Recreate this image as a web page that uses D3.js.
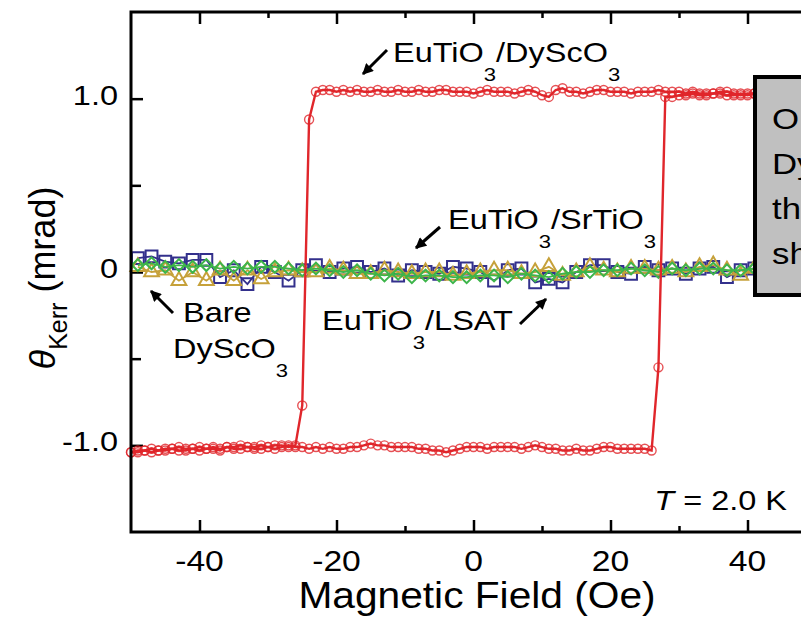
<!DOCTYPE html>
<html>
<head>
<meta charset="utf-8">
<script src="https://cdn.jsdelivr.net/npm/d3@7"></script>
<style>
  body { margin: 0; background: #fff; }
  text { font-family: "Liberation Sans", Arial, sans-serif; fill: #000; }
</style>
</head>
<body>
<svg id="chart" width="801" height="619"></svg>
<script>
// red loop, EuTiO3/DyScO3 : field swept up, then down
const upField = [-50,-49,-48,-47,-46,-45,-44,-43,-42,-41,
  -40,-39,-38,-37,-36,-35,-34,-33,-32,-31,
  -30,-29,-28,-27,-26,-25,-24,-23,-22,-21,
  -20,-19,-18,-17,-16,-15,-14,-13,-12,-11,
  -10,-9,-8,-7,-6,-5,-4,-3,-2,-1,
  0,1,2,3,4,5,6,7,8,9,
  10,11,12,13,14,15,16,17,18,19,
  20,21,22,23,24,25,26,27,28,29,
  30,31,32,33,34,35,36,37,38,39,
  40,41,42,43,44,45,46,47,48,49,
  50];
const upKerr = [-1.04,-1.03,-1.03,-1.02,-1.03,-1.02,-1.02,-1.01,-1.02,-1.02,
  -1.01,-1.02,-1.01,-1.02,-1.01,-1.01,-1.00,-1.01,-1.01,-1.00,
  -1.01,-1.00,-1.00,-1.01,-1.00,-0.77,0.88,1.04,1.05,1.05,
  1.04,1.05,1.04,1.05,1.04,1.04,1.05,1.04,1.04,1.05,
  1.04,1.04,1.05,1.04,1.04,1.05,1.05,1.04,1.04,1.04,
  1.03,1.04,1.05,1.04,1.04,1.04,1.03,1.04,1.05,1.04,
  1.02,1.01,1.05,1.06,1.04,1.04,1.03,1.04,1.05,1.05,
  1.04,1.04,1.04,1.03,1.04,1.04,1.04,1.05,1.04,1.04,
  1.04,1.03,1.04,1.03,1.03,1.03,1.04,1.04,1.03,1.02,
  1.03,1.03,1.04,1.03,1.03,1.02,1.03,1.03,1.03,1.02,
  1.03];
const downField = [50,49,48,47,46,45,44,43,42,41,
  40,39,38,37,36,35,34,33,32,31,
  30,29,28,27,26,25,24,23,22,21,
  20,19,18,17,16,15,14,13,12,11,
  10,9,8,7,6,5,4,3,2,1,
  0,-1,-2,-3,-4,-5,-6,-7,-8,-9,
  -10,-11,-12,-13,-14,-15,-16,-17,-18,-19,
  -20,-21,-22,-23,-24,-25,-26,-27,-28,-29,
  -30,-31,-32,-33,-34,-35,-36,-37,-38,-39,
  -40,-41,-42,-43,-44,-45,-46,-47,-48,-49,
  -50];
const downKerr = [1.03,1.02,1.02,1.03,1.02,1.02,1.03,1.02,1.02,1.03,
  1.02,1.03,1.02,1.02,1.03,1.03,1.02,1.02,1.03,1.02,
  1.02,1.01,1.01,-0.55,-1.03,-1.02,-1.02,-1.02,-1.02,-1.02,
  -1.01,-1.01,-1.02,-1.03,-1.03,-1.02,-1.03,-1.03,-1.02,-1.02,
  -1.01,-1.00,-1.01,-1.02,-1.01,-1.01,-1.01,-1.01,-1.02,-1.01,
  -1.01,-1.01,-1.02,-1.03,-1.04,-1.03,-1.03,-1.02,-1.02,-1.01,
  -1.01,-1.01,-1.01,-1.00,-1.00,-0.99,-1.00,-1.01,-1.01,-1.02,
  -1.02,-1.01,-1.02,-1.01,-1.02,-1.01,-1.01,-1.00,-1.01,-1.02,
  -1.01,-1.02,-1.02,-1.01,-1.02,-1.02,-1.01,-1.03,-1.02,-1.02,
  -1.03,-1.02,-1.03,-1.03,-1.02,-1.03,-1.03,-1.04,-1.03,-1.04,
  -1.04];

// the three flat traces share one field grid
const flatField = [-49,-47,-45,-43,-41,-39,-37,-35,-33,-31,
  -29,-27,-25,-23,-21,-19,-17,-15,-13,-11,
  -9,-7,-5,-3,-1,1,3,5,7,9,
  11,13,15,17,19,21,23,25,27,29,
  31,33,35,37,39,41,43,45,47,49];
const srtioKerr = [0.08,0.09,0.06,0.05,0.07,0.07,-0.03,0.01,-0.07,0.03,
  0.00,-0.05,0.01,0.04,0.00,0.02,0.03,0.00,0.02,-0.02,
  0.01,0.00,-0.01,0.03,0.02,0.00,-0.05,0.01,0.02,-0.06,
  -0.04,-0.06,0.00,0.04,0.04,0.00,-0.01,0.03,0.01,0.02,
  -0.01,0.02,0.03,-0.03,0.01,0.02,0.00,0.01,0.02,0.01];
const lsatKerr = [0.04,0.05,0.03,0.04,0.03,0.04,0.02,0.03,0.02,0.03,
  0.03,0.02,0.01,0.02,0.01,0.00,0.01,-0.01,-0.02,-0.01,
  -0.03,-0.02,-0.02,-0.03,-0.03,-0.02,-0.02,-0.03,-0.01,-0.02,
  -0.03,-0.01,0.00,0.00,0.01,0.01,0.02,0.01,0.00,0.02,
  0.01,0.02,0.02,0.01,0.01,0.02,0.01,0.02,0.02,0.01];
const bareKerr = [0.03,0.00,0.01,-0.05,0.00,-0.05,0.01,-0.05,0.01,-0.04,
  0.00,0.01,0.00,0.00,0.02,0.01,-0.01,-0.01,0.01,0.00,
  -0.01,0.00,0.00,-0.02,-0.01,0.00,0.01,0.01,-0.01,0.00,
  0.03,-0.02,0.00,0.03,0.01,0.00,0.02,0.02,0.01,0.02,
  0.00,0.03,0.04,0.01,-0.02,0.02,0.01,0.00,0.01,0.03];

const xMajor = [-40, -20, 0, 20, 40];
const xMinor = [-30, -10, 10, 30, 50];
const yMajor = [-1, 0, 1];
const yMinor = [-0.5, 0.5];
const yLabels = {'-1': '-1.0', '0': '0', '1': '1.0'};

const SX = 1.16; // the original figure is stretched sideways
const svg = d3.select('#chart');
const pLeft = 131, pRight = 816, pTop = 12, pBottom = 532;
const x = d3.scaleLinear().domain([-50, 50]).range([pLeft, pRight]);
const y = d3.scaleLinear().domain([-1.5, 1.5]).range([pBottom, pTop]);

const red = '#e0262b', blue = '#33308c', green = '#3db54a', gold = '#c6a13a';

// axes, ticks inward
function tickAxis(axis, vals, size, tr) {
  const g = svg.append('g').attr('transform', tr)
    .call(axis.tickValues(vals).tickSize(size).tickSizeOuter(0).tickFormat(''));
  g.select('.domain').remove();
  g.selectAll('line').attr('stroke', '#000').attr('stroke-width', 2.5);
  g.selectAll('text').remove();
  return g;
}
tickAxis(d3.axisBottom(x), xMajor, -12, `translate(0,${pBottom})`);
tickAxis(d3.axisBottom(x), xMinor, -6, `translate(0,${pBottom})`);
tickAxis(d3.axisTop(x), xMajor, -12, `translate(0,${pTop})`);
tickAxis(d3.axisTop(x), xMinor, -6, `translate(0,${pTop})`);
tickAxis(d3.axisLeft(y), yMajor, -12, `translate(${pLeft},0)`);
tickAxis(d3.axisLeft(y), yMinor, -10, `translate(${pLeft},0)`);

svg.selectAll('text.xt').data(xMajor).enter().append('text')
  .attr('class', 'xt')
  .attr('transform', d => `translate(${x(d)},571) scale(${SX},1)`)
  .attr('text-anchor', 'middle').attr('font-size', 29)
  .text(d => d);
svg.selectAll('text.yt').data(yMajor).enter().append('text')
  .attr('class', 'yt')
  .attr('transform', d => `translate(118,${y(d) + 6}) scale(${SX},1)`)
  .attr('text-anchor', 'end').attr('font-size', 28)
  .text(d => yLabels[d]);

svg.append('text')
  .attr('transform', `translate(477,608) scale(1.1,1)`)
  .attr('text-anchor', 'middle').attr('font-size', 37)
  .text('Magnetic Field (Oe)');

const yt = svg.append('text')
  .attr('transform', 'translate(55,278) rotate(-90)')
  .attr('text-anchor', 'middle').attr('font-size', 36);
yt.append('tspan').attr('font-style', 'italic').text('θ');
yt.append('tspan').attr('font-size', 25).attr('dy', 12).text('Kerr');
yt.append('tspan').attr('dy', -12).text(' (mrad)');

// flat traces
const line = d3.line().x(d => x(d[0])).y(d => y(d[1]));
function trace(field, kerr, color, sym, size, rot) {
  const pts = d3.zip(field, kerr);
  svg.append('path').datum(pts).attr('d', line)
    .attr('fill', 'none').attr('stroke', color).attr('stroke-width', 1.8);
  svg.append('g').selectAll('path').data(pts).enter().append('path')
    .attr('d', d3.symbol().type(sym).size(size))
    .attr('transform', d => `translate(${x(d[0])},${y(d[1])}) rotate(${rot})`)
    .attr('fill', 'none').attr('stroke', color).attr('stroke-width', 2);
}
trace(flatField, srtioKerr, blue, d3.symbolSquare, 140, 0);
trace(flatField, bareKerr, gold, d3.symbolTriangle, 95, 0);
trace(flatField, lsatKerr, green, d3.symbolSquare, 70, 45);

// red loop
const loop = d3.zip(upField, upKerr).concat(d3.zip(downField, downKerr));
svg.append('path').datum(d3.zip(upField, upKerr)).attr('d', line)
  .attr('fill', 'none').attr('stroke', red).attr('stroke-width', 2.4);
svg.append('path').datum(d3.zip(downField, downKerr)).attr('d', line)
  .attr('fill', 'none').attr('stroke', red).attr('stroke-width', 2.4);
svg.append('g').selectAll('circle').data(loop).enter().append('circle')
  .attr('cx', d => x(d[0])).attr('cy', d => y(d[1])).attr('r', 4.5)
  .attr('fill', 'none').attr('stroke', red).attr('stroke-width', 1.4)
  .attr('opacity', 0.8);

// frame
svg.append('rect').attr('x', pLeft).attr('y', pTop)
  .attr('width', pRight - pLeft).attr('height', pBottom - pTop)
  .attr('fill', 'none').attr('stroke', '#000').attr('stroke-width', 3);

// labels with subscripts
function label(px, py, parts, size) {
  const t = svg.append('text')
    .attr('transform', `translate(${px},${py}) scale(${SX},1)`)
    .attr('font-size', size);
  let down = 0;
  parts.forEach(p => {
    const sub = p.startsWith('_');
    const s = t.append('tspan').text(sub ? p.slice(1) : p);
    if (sub) { s.attr('font-size', size * 0.68).attr('dy', 19 - down); down = 19; }
    else { s.attr('dy', -down); down = 0; }
  });
  return t;
}
label(393, 62, ['EuTiO', '_3', '/DyScO', '_3'], 28);
label(448, 229, ['EuTiO', '_3', '/SrTiO', '_3'], 28);
label(322, 330, ['EuTiO', '_3', '/LSAT'], 28);
label(183, 322, ['Bare'], 28);
label(173, 358, ['DyScO', '_3'], 28);

const tl = svg.append('text')
  .attr('transform', `translate(787,510) scale(${SX},1)`)
  .attr('text-anchor', 'end').attr('font-size', 28);
tl.append('tspan').attr('font-style', 'italic').text('T');
tl.append('tspan').text(' = 2.0 K');

// arrows
svg.append('defs').append('marker').attr('id', 'head')
  .attr('viewBox', '0 0 10 10').attr('refX', 9).attr('refY', 5)
  .attr('markerWidth', 13).attr('markerHeight', 11)
  .attr('markerUnits', 'userSpaceOnUse').attr('orient', 'auto')
  .append('path').attr('d', 'M0,0L10,5L0,10Z').attr('fill', '#000');
const arrows = [[387, 50, 363, 74], [440, 227, 416, 248], [173, 313, 151, 291], [520, 324, 546, 299]];
svg.selectAll('line.arr').data(arrows).enter().append('line')
  .attr('class', 'arr')
  .attr('x1', d => d[0]).attr('y1', d => d[1]).attr('x2', d => d[2]).attr('y2', d => d[3])
  .attr('stroke', '#000').attr('stroke-width', 3).attr('marker-end', 'url(#head)');

// grey note box, cut by the page edge as in the source figure
svg.append('rect').attr('x', 755).attr('y', 77).attr('width', 120).attr('height', 218)
  .attr('fill', '#c0c0c0').attr('stroke', '#000').attr('stroke-width', 4);
const note = ['O', 'Dy', 'th', 'sh'];
svg.selectAll('text.note').data(note).enter().append('text')
  .attr('class', 'note')
  .attr('transform', (d, i) => `translate(772,${129 + i * 45}) scale(${SX},1)`)
  .attr('font-size', 30).text(d => d);
</script>
</body>
</html>
